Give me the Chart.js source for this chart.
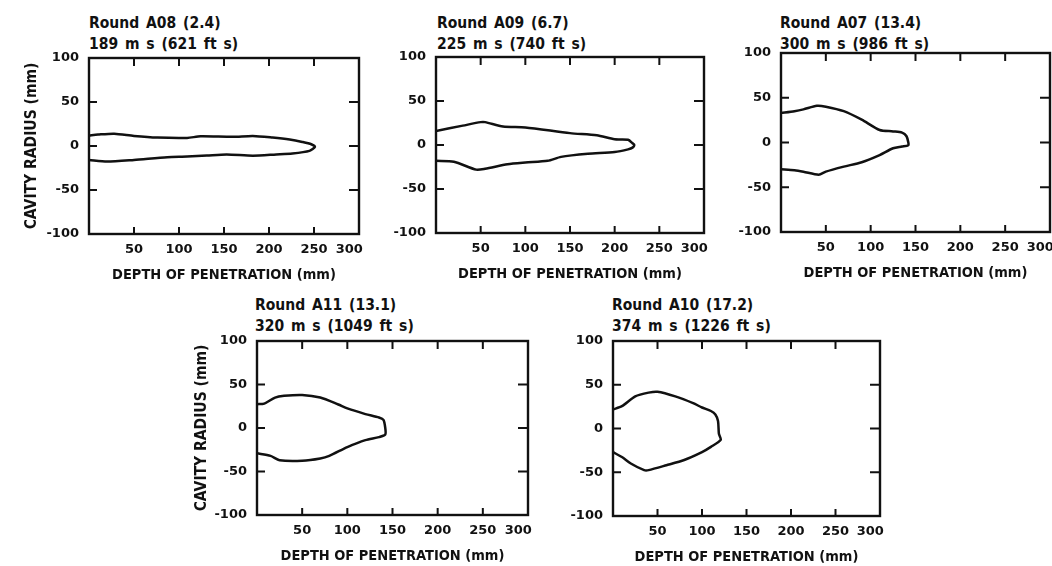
<!DOCTYPE html>
<html>
<head>
<meta charset="utf-8">
<script src="https://cdn.jsdelivr.net/npm/chart.js@4.4.1/dist/chart.umd.min.js"></script>
<style>
    body { margin: 0; background: #fff; width: 1052px; height: 566px; overflow: hidden; position: relative; }
    canvas { position: absolute; }
    .ttl { position: absolute; font: bold 15.5px "DejaVu Sans Condensed"; word-spacing: 2px; color: #111; line-height: 21px; white-space: pre; }
</style>
</head>
<body>
<script>
// cavity profiles: depth (mm) and radius (mm), upper edge out to the tip then lower edge back
const a08Depth  = [0, 10, 28, 50, 76, 109, 124, 160, 182, 204, 223, 237, 247, 251, 245, 226, 208, 182, 153, 131, 109, 87, 50, 20, 0];
const a08Radius = [12, 13, 14, 11.5, 9.6, 9.2, 11, 10.4, 11.5, 9.6, 7.3, 4.6, 2, -1, -5.5, -8.5, -9.6, -11, -9.6, -10.8, -12, -12.7, -15.8, -17.7, -15.8];

const a09Depth  = [0, 30, 50, 55, 75, 100, 150, 180, 200, 215, 220, 222, 220, 215, 200, 170, 140, 125, 100, 80, 55, 45, 20, 0];
const a09Radius = [16, 22, 26, 26, 21, 20, 13.5, 11, 6.5, 6, 2, 0, -3, -5, -8, -10, -13.5, -18, -20, -22, -27, -28, -19, -18];

const a07Depth  = [0, 15, 25, 40, 50, 70, 90, 110, 125, 135, 140, 142, 142, 135, 125, 110, 90, 70, 50, 42, 25, 15, 0];
const a07Radius = [33, 35, 37, 41, 40, 35, 25.5, 14, 12.4, 11, 7, 0, -3, -4.5, -6.4, -14, -22, -27, -32.6, -36, -32.6, -31, -30];

const a11Depth  = [0, 8, 20, 30, 50, 70, 90, 100, 120, 135, 140, 142, 142, 135, 120, 100, 80, 70, 50, 25, 15, 0];
const a11Radius = [27.4, 28, 35, 37, 38, 35, 27, 22.5, 16, 12, 9.4, 0, -7.5, -10.5, -14, -22, -32, -35, -37.6, -37, -32, -29];

const a10Depth  = [0, 10, 25, 40, 50, 70, 90, 100, 110, 115, 118, 119, 121, 110, 100, 80, 60, 40, 35, 20, 10, 0];
const a10Radius = [21.7, 25.5, 36.7, 41, 42, 36.7, 29, 24, 20, 16, 8.6, -6, -13, -21, -27, -36, -42, -47.6, -47.6, -40, -32.6, -27];

const xTicks = [0, 50, 100, 150, 200, 250, 300];
const yTicks = [-100, -50, 0, 50, 100];

const ink = '#111';

// plot box [left, top, right, bottom] in page pixels, title corner
const panels = [
    { title: 'Round A08 (2.4)\n189 m s (621 ft s)', tpos: [89, 13], depth: a08Depth, radius: a08Radius, plot: [89, 58, 359, 234], yTitle: true, yw: 66 },
    { title: 'Round A09 (6.7)\n225 m s (740 ft s)', tpos: [437, 13], depth: a09Depth, radius: a09Radius, plot: [436, 57, 704, 233], yTitle: false, yw: 50 },
    { title: 'Round A07 (13.4)\n300 m s (986 ft s)', tpos: [780, 13], depth: a07Depth, radius: a07Radius, plot: [781, 53, 1050, 232], yTitle: false, yw: 50 },
    { title: 'Round A11 (13.1)\n320 m s (1049 ft s)', tpos: [255, 295], depth: a11Depth, radius: a11Radius, plot: [257, 341, 528, 515], yTitle: true, yw: 64 },
    { title: 'Round A10 (17.2)\n374 m s (1226 ft s)', tpos: [612, 295], depth: a10Depth, radius: a10Radius, plot: [613, 341, 880, 516], yTitle: false, yw: 50 }
];

// full frame plus inward tick marks
const frameTicks = {
    id: 'frameTicks',
    afterDatasetsDraw(chart) {
        const { ctx, chartArea: a, scales: { x, y } } = chart;
        ctx.save();
        ctx.strokeStyle = ink;
        ctx.lineWidth = 2.4;
        ctx.strokeRect(a.left, a.top, a.right - a.left, a.bottom - a.top);
        ctx.lineWidth = 2;
        ctx.beginPath();
        x.ticks.forEach(t => {
            if (t.value <= x.min || t.value >= x.max) return;
            const px = x.getPixelForValue(t.value);
            ctx.moveTo(px, a.top); ctx.lineTo(px, a.top + 8);
            ctx.moveTo(px, a.bottom); ctx.lineTo(px, a.bottom - 7);
        });
        y.ticks.forEach(t => {
            if (t.value <= y.min || t.value >= y.max) return;
            const py = y.getPixelForValue(t.value);
            ctx.moveTo(a.left, py); ctx.lineTo(a.left + 8, py);
            ctx.moveTo(a.right, py); ctx.lineTo(a.right - 10, py);
        });
        ctx.stroke();
        ctx.restore();
    }
};

const tickFont = { family: 'DejaVu Sans', weight: 'bold', size: 13 };
const axisFont = { family: 'DejaVu Sans Condensed', weight: 'bold', size: 14.5 };
const radiusFont = { family: 'DejaVu Sans Condensed', weight: 'bold', size: 15.5 };

panels.forEach(p => {
    const [l, t, r, b] = p.plot;
    const padT = 20, padR = 34, hx = 50;

    const tt = document.createElement('div');
    tt.className = 'ttl';
    tt.style.left = p.tpos[0] + 'px';
    tt.style.top = p.tpos[1] + 'px';
    tt.textContent = p.title;
    document.body.appendChild(tt);

    const cv = document.createElement('canvas');
    const w = (r - l) + p.yw + padR, h = padT + (b - t) + hx;
    cv.width = w; cv.height = h;
    cv.style.width = w + 'px'; cv.style.height = h + 'px';
    cv.style.left = (l - p.yw) + 'px';
    cv.style.top = (t - padT) + 'px';
    document.body.appendChild(cv);

    new Chart(cv, {
        type: 'scatter',
        data: {
            datasets: [{
                data: p.depth.map((d, i) => ({ x: d, y: p.radius[i] })),
                showLine: true,
                borderColor: ink,
                borderWidth: 2.5,
                pointRadius: 0,
                tension: 0.25,
                fill: false
            }]
        },
        options: {
            responsive: false,
            animation: false,
            layout: { padding: { top: padT, right: padR, left: 0, bottom: 0 } },
            plugins: {
                legend: { display: false },
                tooltip: { enabled: false }
            },
            scales: {
                x: {
                    type: 'linear',
                    min: 0,
                    max: 300,
                    afterBuildTicks: s => { s.ticks = xTicks.map(v => ({ value: v })); },
                    afterFit: s => { s.height = hx; },
                    grid: { display: false, drawTicks: false },
                    border: { display: false },
                    ticks: {
                        autoSkip: false,
                        maxRotation: 0,
                        padding: 8,
                        color: ink,
                        font: tickFont,
                        callback: v => v === 0 ? '' : (v === 300 ? '300\u2002\u2002\u2002' : String(v))
                    },
                    title: {
                        display: true,
                        text: 'DEPTH OF PENETRATION (mm)',
                        color: ink,
                        font: axisFont,
                        padding: 0
                    }
                },
                y: {
                    min: -100,
                    max: 100,
                    afterBuildTicks: s => { s.ticks = yTicks.map(v => ({ value: v })); },
                    afterFit: s => { s.width = p.yw; },
                    grid: { display: false, drawTicks: false },
                    border: { display: false },
                    ticks: { padding: 10, color: ink, font: tickFont },
                    title: {
                        display: p.yTitle,
                        text: 'CAVITY RADIUS (mm)',
                        color: ink,
                        font: radiusFont,
                        padding: 0
                    }
                }
            }
        },
        plugins: [frameTicks]
    });
});
</script>
</body>
</html>
